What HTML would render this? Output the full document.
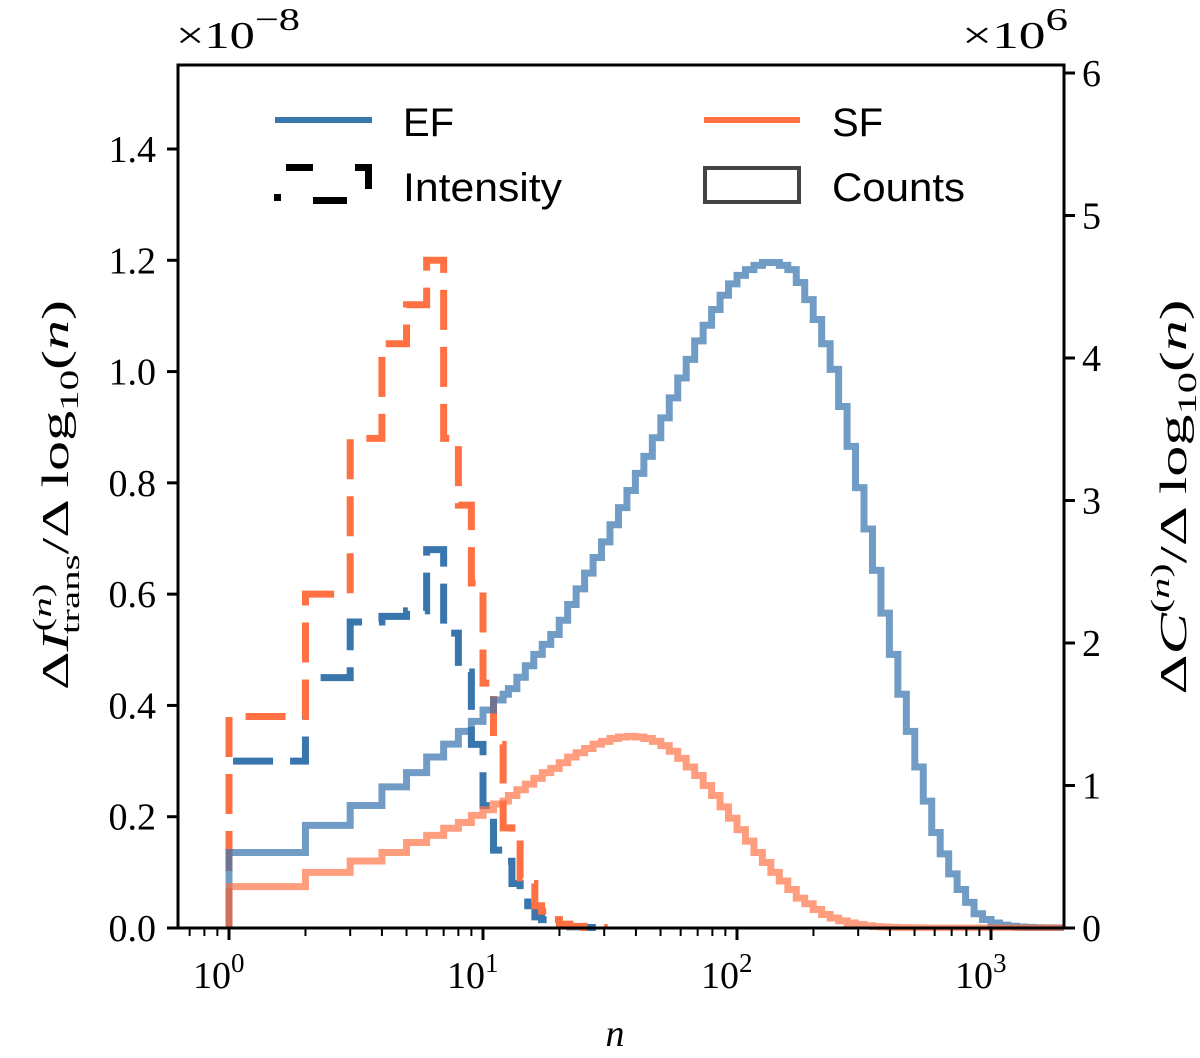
<!DOCTYPE html>
<html><head><meta charset="utf-8"><style>
html,body{margin:0;padding:0;background:#fff;}
svg{display:block;}
.tick{font-family:"Liberation Serif",serif;font-size:38px;fill:#000;}
.leg{font-family:"Liberation Sans",sans-serif;font-size:40px;fill:#000;}
</style></head><body>
<svg id="chart" width="1200" height="1058" viewBox="0 0 1200 1058" xmlns="http://www.w3.org/2000/svg">
<defs><clipPath id="plotclip"><rect x="178" y="65" width="886" height="866"/></clipPath></defs>
<g id="marks" clip-path="url(#plotclip)"></g>
<rect x="178" y="65" width="886" height="863" fill="none" stroke="#000" stroke-width="3"/>
<g id="axes"></g>
<text class="tick" x="176" y="48" font-size="44" textLength="124" lengthAdjust="spacingAndGlyphs">×10<tspan dy="-18" font-size="32">−8</tspan></text>
<text class="tick" x="962" y="48" font-size="44" textLength="106" lengthAdjust="spacingAndGlyphs">×10<tspan dy="-18" font-size="32">6</tspan></text>
<text class="tick" font-style="italic" x="615" y="1046" text-anchor="middle" font-size="40">n</text>
<text class="tick" font-size="40" text-anchor="middle" textLength="390" lengthAdjust="spacingAndGlyphs" transform="translate(68,495) rotate(-90)">Δ<tspan font-style="italic">I</tspan><tspan dy="-17" font-size="26">(<tspan font-style="italic">n</tspan>)</tspan><tspan dx="-32" dy="28" font-size="26">trans</tspan><tspan dy="-11">/Δ log</tspan><tspan dy="10" font-size="26">10</tspan><tspan dy="-10">(<tspan font-style="italic">n</tspan>)</tspan></text>
<text class="tick" font-size="40" text-anchor="middle" textLength="395" lengthAdjust="spacingAndGlyphs" transform="translate(1186,497) rotate(-90)">Δ<tspan font-style="italic">C</tspan><tspan dy="-17" font-size="26">(<tspan font-style="italic">n</tspan>)</tspan><tspan dy="17">/Δ log</tspan><tspan dy="10" font-size="26">10</tspan><tspan dy="-10">(<tspan font-style="italic">n</tspan>)</tspan></text>
<g>
<line x1="275" y1="120" x2="372" y2="120" stroke="#3a76ae" stroke-width="6"/>
<text class="leg" x="403" y="136">EF</text>
<g fill="#000">
<rect x="274" y="194" width="7" height="7"/><rect x="286" y="164" width="27" height="7"/><rect x="313" y="197" width="34" height="7"/><rect x="355" y="164" width="17" height="7"/><rect x="365" y="164" width="7" height="25"/>
</g>
<text class="leg" x="403" y="201" textLength="159" lengthAdjust="spacingAndGlyphs">Intensity</text>
<line x1="704" y1="120" x2="800" y2="120" stroke="#ff7043" stroke-width="6"/>
<text class="leg" x="832" y="136">SF</text>
<rect x="705" y="168" width="94" height="34" fill="none" stroke="#444" stroke-width="4"/>
<text class="leg" x="832" y="201" textLength="133" lengthAdjust="spacingAndGlyphs">Counts</text>
</g>
</svg>
<script>
// ---- data ----
const intensityEdges = [1,2,3,4,5,6,7,8,9,10,11,12,13,14,15,16,17,18,20,22,25,30];
const efIntensity = [0.30,0.45,0.55,0.56,0.57,0.68,0.53,0.46,0.33,0.22,0.14,0.12,0.08,0.06,0.04,0.02,0.015,0.008,0.004,0.002,0.001];
const sfIntensity = [0.38,0.60,0.88,1.05,1.12,1.20,0.88,0.76,0.62,0.44,0.33,0.18,0.17,0.09,0.08,0.04,0.03,0.015,0.007,0.003,0.001];
const countIntEdges = [1,2,3,4,5,6,7,8,9,10,11,12];
const countLogStart = 1.1, countLogBinsPerDecade = 30, countLogBins = 66;
const efCounts = [0.53,0.72,0.86,0.99,1.09,1.20,1.29,1.38,1.45,1.53,1.60, 1.64,
 1.68,1.76,1.84,1.92,1.99,2.06,2.16,2.27,2.38,2.49,
 2.60,2.71,2.83,2.95,3.07,3.19,3.31,3.44,3.58,3.72,
 3.86,3.99,4.12,4.23,4.34,4.44,4.52,4.58,4.62,4.65,
 4.67,4.67,4.65,4.62,4.53,4.41,4.27,4.10,3.92,3.66,
 3.38,3.09,2.80,2.51,2.21,1.92,1.64,1.38,1.13,0.89,
 0.67,0.52,0.38,0.27,0.18,0.10,0.06,0.035,0.02,0.012,
 0.007,0.004,0.002,0.001,0.001,0];
const sfCounts = [0.29,0.39,0.47,0.53,0.60,0.65,0.70,0.74,0.79,0.83,0.87, 0.89,
 0.93,0.97,1.01,1.05,1.09,1.12,1.16,1.20,1.23,1.26,
 1.29,1.31,1.33,1.34,1.345,1.34,1.33,1.31,1.28,1.24,
 1.19,1.13,1.07,1.00,0.93,0.85,0.77,0.69,0.61,0.53,
 0.46,0.39,0.33,0.27,0.21,0.17,0.13,0.095,0.07,0.05,
 0.035,0.024,0.016,0.01,0.007,0.004,0.003,0.002,0.001,0,
 0,0,0,0,0,0,0,0,0,0,0,0,0,0,0,0];
const leftTicks = [0,0.2,0.4,0.6,0.8,1.0,1.2,1.4];
const leftTickLabels = ["0.0","0.2","0.4","0.6","0.8","1.0","1.2","1.4"];
const rightTicks = [0,1,2,3,4,5,6];
const xDecades = [0,1,2,3];

// ---- scales ----
const X = n => 229 + 254*Math.log10(n);
const YL = v => 928 - v*556.43;
const YR = v => 928 - v*142.5;
const NS = "http://www.w3.org/2000/svg";
const marks = document.getElementById('marks');
const axes = document.getElementById('axes');

const countEdges = countIntEdges.slice();
for (let j=0;j<=countLogBins;j++) countEdges.push(Math.pow(10, countLogStart + j/countLogBinsPerDecade));

function stepPath(edges, vals, Y){
  let d = "M"+X(edges[0]).toFixed(2)+","+Y(0);
  for (let i=0;i<vals.length;i++){
    d += " V"+Y(vals[i]).toFixed(2)+" H"+X(edges[i+1]).toFixed(2);
  }
  d += " V"+Y(0);
  return d;
}
function addPath(d, color, opacity, dash, name){
  const p = document.createElementNS(NS,'path');
  p.setAttribute('d', d);
  p.setAttribute('fill','none');
  p.setAttribute('stroke', color);
  p.setAttribute('stroke-width', 7);
  p.setAttribute('stroke-opacity', opacity);
  if (dash) p.setAttribute('stroke-dasharray', dash);
  
  
  marks.appendChild(p);
}
addPath(stepPath(intensityEdges, efIntensity, YL), '#3a76ae', 1, '40 17', 'ef-intensity-step');
addPath(stepPath(intensityEdges, sfIntensity, YL), '#ff7043', 1, '40 17', 'sf-intensity-step');
addPath(stepPath(countEdges, efCounts, YR), '#3a76ae', 0.72, null, 'ef-counts-step');
addPath(stepPath(countEdges, sfCounts, YR), '#ff7043', 0.68, null, 'sf-counts-step');

function line(x1,y1,x2,y2,w){
  const l = document.createElementNS(NS,'line');
  l.setAttribute('x1',x1);l.setAttribute('y1',y1);l.setAttribute('x2',x2);l.setAttribute('y2',y2);
  l.setAttribute('stroke','#000');l.setAttribute('stroke-width',w);
  
  
  axes.appendChild(l);
}
function text(x,y,s,anchor,name){
  const t = document.createElementNS(NS,'text');
  t.setAttribute('x',x);t.setAttribute('y',y);t.setAttribute('class','tick');
  t.setAttribute('text-anchor',anchor);
  t.textContent = s;
  
  
  axes.appendChild(t);
  return t;
}
leftTicks.forEach((v,i)=>{
  line(167, YL(v), 178, YL(v), 3);
  text(156, YL(v)+13, leftTickLabels[i], 'end', 'left-tick-label');
});
rightTicks.forEach(v=>{
  line(1064, YR(v), 1075, YR(v), 3);
  text(1082, YR(v)+13, String(v), 'start', 'right-tick-label');
});
xDecades.forEach(k=>{
  const x = X(Math.pow(10,k));
  line(x, 928, x, 940, 3);
  const t = text(x-36, 988, '10', 'start', 'x-tick-label');
  const s = document.createElementNS(NS,'tspan');
  s.setAttribute('dy', -16); s.setAttribute('font-size', 27);
  s.textContent = String(k);
  t.appendChild(s);
});
for (let k=-1;k<=3;k++){
  for (let m=2;m<=9;m++){
    const n = m*Math.pow(10,k);
    const x = X(n);
    if (x < 179 || x > 1063) continue;
    line(x, 928, x, 936, 2);
  }
}
</script>
</body></html>
